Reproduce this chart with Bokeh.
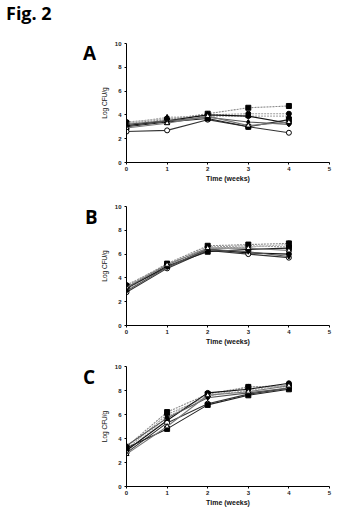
from bokeh.plotting import figure
from bokeh.layouts import column, row
from bokeh.models import FixedTicker, Div
from bokeh.embed import file_html
from bokeh.resources import INLINE

weeks = [0, 1, 2, 3, 4]

# Panel A values (Log CFU/g), 8 series
a_values = [
    [3.3, 3.6, 4.1, 4.6, 4.75],
    [3.4, 3.7, 4.0, 4.1, 4.1],
    [3.3, 3.8, 3.9, 3.9, 3.9],
    [3.1, 3.5, 4.0, 3.9, 3.3],
    [2.6, 2.7, 3.6, 3.0, 2.5],
    [3.0, 3.4, 3.7, 3.0, 3.6],
    [3.2, 3.5, 3.8, 3.4, 3.2],
    [2.9, 3.3, 3.9, 3.1, 3.4],
]
a_errors = [
    [0.1, 0.2, 0.2, 0.15, 0.25],
    [0.1, 0.15, 0.1, 0.1, 0.1],
    [0.1, 0.2, 0.15, 0.1, 0.15],
    [0.15, 0.2, 0.2, 0.2, 0.15],
    [0.1, 0.1, 0.15, 0.1, 0.1],
    [0.1, 0.15, 0.2, 0.1, 0.2],
    [0.15, 0.1, 0.2, 0.15, 0.15],
    [0.1, 0.15, 0.25, 0.1, 0.2],
]

# Panel B values
b_values = [
    [3.3, 5.2, 6.7, 6.8, 6.9],
    [3.4, 5.1, 6.6, 6.7, 6.6],
    [3.0, 5.0, 6.5, 6.6, 6.8],
    [3.2, 4.9, 6.4, 6.1, 6.0],
    [2.8, 4.8, 6.3, 6.0, 5.7],
    [3.1, 5.0, 6.2, 6.4, 6.5],
    [2.9, 4.9, 6.4, 6.2, 5.8],
    [3.2, 5.1, 6.5, 6.5, 6.3],
]
b_errors = [
    [0.15, 0.15, 0.15, 0.1, 0.25],
    [0.1, 0.1, 0.1, 0.15, 0.2],
    [0.15, 0.1, 0.1, 0.15, 0.15],
    [0.1, 0.15, 0.15, 0.1, 0.15],
    [0.15, 0.1, 0.1, 0.1, 0.1],
    [0.1, 0.1, 0.1, 0.2, 0.2],
    [0.15, 0.15, 0.1, 0.1, 0.1],
    [0.1, 0.1, 0.15, 0.15, 0.15],
]

# Panel C values
c_values = [
    [3.3, 6.2, 7.7, 8.3, 8.4],
    [3.1, 6.0, 7.5, 8.3, 8.3],
    [2.9, 5.8, 7.6, 8.0, 8.5],
    [3.0, 5.5, 7.8, 8.1, 8.6],
    [2.8, 5.3, 6.9, 7.7, 8.2],
    [3.2, 4.8, 6.8, 7.6, 8.1],
    [3.4, 5.7, 7.4, 7.8, 8.2],
    [2.7, 5.0, 7.6, 7.9, 8.4],
]
c_errors = [
    [0.15, 0.15, 0.2, 0.1, 0.1],
    [0.1, 0.1, 0.4, 0.1, 0.15],
    [0.15, 0.15, 0.2, 0.15, 0.1],
    [0.1, 0.2, 0.15, 0.1, 0.1],
    [0.15, 0.15, 0.15, 0.1, 0.15],
    [0.1, 0.1, 0.15, 0.15, 0.1],
    [0.15, 0.1, 0.2, 0.1, 0.15],
    [0.1, 0.15, 0.15, 0.15, 0.1],
]

x_ticks = [0, 1, 2, 3, 4, 5]
y_ticks = [0, 2, 4, 6, 8, 10]
panel_letters = ["A", "B", "C"]
x_label = "Time (weeks)"
y_label = "Log CFU/g"
fig_title = "Fig. 2"

# styles per series
styles = [
    dict(color="#8a8a8a", dash="2 1", marker="square", fill="black"),
    dict(color="#9a9a9a", dash="2 1", marker="circle", fill="black"),
    dict(color="#b0b0b0", dash="2 1", marker="triangle", fill="black"),
    dict(color="#111111", dash="solid", marker="circle", fill="black"),
    dict(color="#333333", dash="solid", marker="circle", fill="white"),
    dict(color="#222222", dash="solid", marker="square", fill="black"),
    dict(color="#555555", dash="solid", marker="diamond", fill="black"),
    dict(color="#777777", dash="solid", marker="triangle", fill="white"),
]

FONT = "Liberation Sans"
BIG_FONT = "Open Sans"


def text_div(txt, width, height, size, pad_top, pad_left):
    html = ('<div style="font-family:\'%s\';font-weight:bold;font-size:%dpx;'
            'line-height:1;color:black;padding-top:%dpx;padding-left:%dpx;'
            'margin:0;white-space:nowrap;">%s</div>') % (BIG_FONT, size, pad_top, pad_left, txt)
    return Div(text=html, width=width, height=height, margin=0)


def make_panel(values, errors, height, top, bottom):
    p = figure(width=246, height=height, x_range=(0, 5), y_range=(0, 10),
               output_backend="svg", toolbar_location=None,
               min_border_left=30, min_border_right=13,
               min_border_top=top, min_border_bottom=bottom, margin=0)
    p.outline_line_color = None
    p.xgrid.visible = False
    p.ygrid.visible = False
    p.background_fill_color = "white"
    p.border_fill_color = "white"
    for ax, ticks in ((p.xaxis[0], x_ticks), (p.yaxis[0], y_ticks)):
        ax.ticker = FixedTicker(ticks=ticks)
        ax.minor_tick_line_color = None
        ax.major_tick_in = 0
        ax.major_tick_out = 2
        ax.axis_line_color = "black"
        ax.axis_line_width = 1
        ax.major_tick_line_color = "black"
        ax.major_label_text_font = FONT
        ax.major_label_text_font_size = "6px"
        ax.major_label_text_font_style = "bold"
        ax.major_label_text_color = "#222222"
        ax.axis_label_text_font = FONT
        ax.axis_label_text_color = "#111111"
    p.xaxis.major_label_standoff = 2
    p.yaxis.major_label_standoff = 3
    p.xaxis.axis_label = x_label
    p.xaxis.axis_label_text_font_size = "7px"
    p.xaxis.axis_label_text_font_style = "bold"
    p.xaxis.axis_label_standoff = 1
    p.yaxis.axis_label = y_label
    p.yaxis.axis_label_text_font_size = "6.5px"
    p.yaxis.axis_label_text_font_style = "normal"
    p.yaxis.axis_label_standoff = 4

    for vals, errs, st in zip(values, errors, styles):
        lo = [v - e for v, e in zip(vals, errs)]
        hi = [v + e for v, e in zip(vals, errs)]
        p.segment(x0=weeks, y0=lo, x1=weeks, y1=hi, line_color="black", line_width=1)
        p.line(weeks, vals, line_color=st["color"], line_dash=st["dash"], line_width=1.1)
        p.scatter(weeks, vals, marker=st["marker"], size=5,
                  fill_color=st["fill"], line_color="black", line_width=1)
    return p


title_div = text_div(fig_title, 342, 30, 18, 4, 6)
pA = make_panel(a_values, a_errors, 155, 13, 23)
pB = make_panel(b_values, b_errors, 162, 21, 21)
pC = make_panel(c_values, c_errors, 164, 19, 25)
dA = text_div(panel_letters[0], 96, 155, 19, 14, 83)
dB = text_div(panel_letters[1], 96, 162, 19, 23, 85)
dC = text_div(panel_letters[2], 96, 164, 19, 21, 83)

layout = column(title_div,
                row(dA, pA, spacing=0),
                row(dB, pB, spacing=0),
                row(dC, pC, spacing=0),
                spacing=0)
open("out.html", "w").write(file_html(layout, INLINE))
